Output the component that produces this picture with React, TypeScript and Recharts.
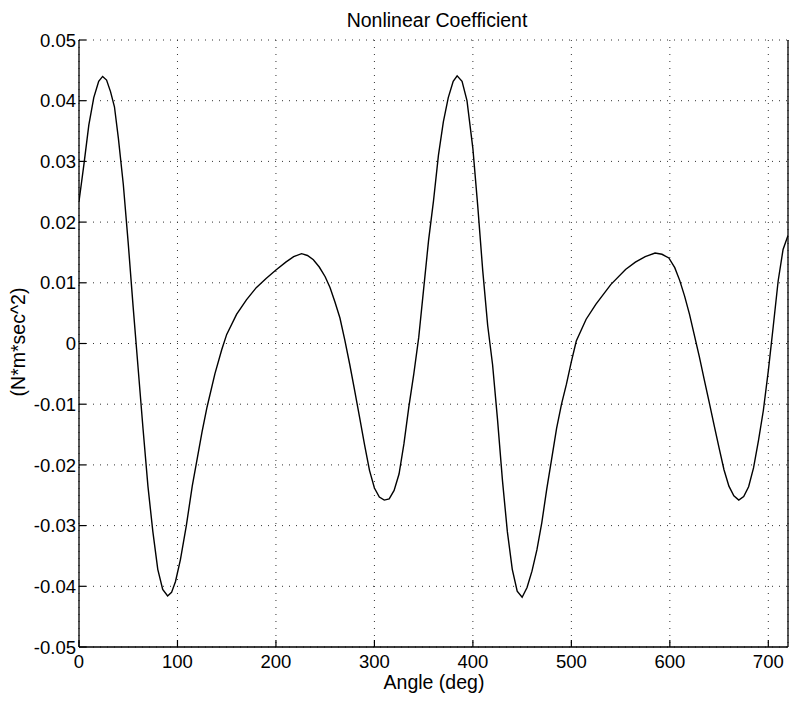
import React from "react";
import { LineChart, Line, XAxis, YAxis, CartesianGrid } from "recharts";

const angles = [
  0, 5, 10, 15, 20, 24, 28, 32, 36, 40, 45, 50, 55, 60, 65, 70, 75, 80, 85, 90, 94, 98, 103, 109, 115, 120, 125, 130, 138, 145, 150, 160, 170, 180, 190, 200, 210, 218, 226, 232, 238, 244, 250, 255, 260, 265, 270, 275, 280, 285, 290, 295, 300, 305, 310, 315, 320, 325, 330, 335, 340, 345, 350, 355, 360,
  365, 370, 375, 380, 384, 389, 394, 400, 405, 410, 415, 420, 425, 430, 435, 440, 445, 450, 455, 460, 465, 470, 475, 480, 485, 490, 495, 500, 505, 515, 525, 540, 555, 565, 575, 585, 592, 599, 605, 610, 615, 620, 625, 630, 635, 640, 645, 650, 655, 660, 665, 670, 675, 680, 685, 690, 695, 700, 705, 710, 715, 720,
];

const coefficient = [
  0.0234, 0.0295, 0.036, 0.0405, 0.0432, 0.044, 0.0434, 0.0415, 0.039, 0.0338, 0.0262, 0.0165, 0.006, -0.004, -0.014, -0.0235, -0.031, -0.0372, -0.0405, -0.0416, -0.041, -0.0392, -0.0356, -0.03, -0.0235, -0.019, -0.0145, -0.0105, -0.005, -0.001, 0.0015, 0.0048, 0.0072, 0.0092, 0.0107, 0.0121, 0.0134, 0.0143, 0.0148, 0.0145, 0.0138, 0.0126, 0.011, 0.0092, 0.0068, 0.0042, 0.0005, -0.0035, -0.0078, -0.0122, -0.0167, -0.0209, -0.0238, -0.0253, -0.0258, -0.0256, -0.0242, -0.0215, -0.0165, -0.0104, -0.005, 0.001, 0.009, 0.017, 0.0235,
  0.031, 0.0365, 0.0405, 0.0432, 0.0441, 0.0432, 0.04, 0.0321, 0.0225, 0.012, 0.003, -0.0035, -0.0125, -0.0225, -0.031, -0.0372, -0.0408, -0.0418, -0.0402, -0.0375, -0.034, -0.0295, -0.024, -0.019, -0.014, -0.01, -0.0067, -0.003, 0.0004, 0.004, 0.0065, 0.0097, 0.0122, 0.0134, 0.0143, 0.0149, 0.0147, 0.0141, 0.0125, 0.0104, 0.0078, 0.0048, 0.0013, -0.0022, -0.006, -0.0097, -0.0135, -0.0172, -0.0208, -0.0235, -0.0251, -0.0258, -0.0252, -0.0236, -0.0205, -0.016, -0.011, -0.0045, 0.0028, 0.0103, 0.0155, 0.0178,
];

const xTicks = [0, 100, 200, 300, 400, 500, 600, 700];
const yTicks = [-0.05, -0.04, -0.03, -0.02, -0.01, 0, 0.01, 0.02, 0.03, 0.04, 0.05];

const title = "Nonlinear Coefficient";
const xLabel = "Angle (deg)";
const yLabel = "(N*m*sec^2)";

const data = angles.map((a, i) => ({ angle: a, value: coefficient[i] }));

const W = 791;
const H = 704;
const FONT = "'Liberation Sans', Arial, Helvetica, sans-serif";
const TICK_FS = 18.5;
const LABEL_FS = 19.5;
const TICK_LEN = 7;

const fmtY = (v: number) => (Math.abs(v) < 1e-9 ? "0" : v.toFixed(2));

const BottomTick = (props: any) => {
  const { x, y, payload } = props;
  return (
    <g>
      <line x1={x} x2={x} y1={y} y2={y - TICK_LEN} stroke="#000" strokeWidth={1.2} />
      <text x={x} y={y + 21} textAnchor="middle" fontSize={TICK_FS} fontFamily={FONT} fill="#000">
        {payload.value}
      </text>
    </g>
  );
};

const TopTick = (props: any) => {
  const { x, y } = props;
  return <line x1={x} x2={x} y1={y} y2={y + TICK_LEN} stroke="#000" strokeWidth={1.2} />;
};

const LeftTick = (props: any) => {
  const { x, y, payload } = props;
  return (
    <g>
      <line x1={x} x2={x + TICK_LEN} y1={y} y2={y} stroke="#000" strokeWidth={1.2} />
      <text x={x - 3} y={y} dy="0.36em" textAnchor="end" fontSize={TICK_FS} fontFamily={FONT} fill="#000">
        {fmtY(payload.value)}
      </text>
    </g>
  );
};

const RightTick = (props: any) => {
  const { x, y } = props;
  return <line x1={x} x2={x - TICK_LEN} y1={y} y2={y} stroke="#000" strokeWidth={1.2} />;
};

export default function App() {
  return (
    <div style={{ position: "absolute", left: 0, top: 0, width: W, height: H, background: "#fff" }}>
      <LineChart width={W} height={H} data={data} margin={{ top: 40, right: 0, bottom: 0, left: 0 }}>
        <CartesianGrid stroke="#333" strokeDasharray="1 6" strokeWidth={1} />
        <XAxis
          dataKey="angle"
          type="number"
          domain={[0, 720]}
          ticks={xTicks}
          interval={0}
          height={57}
          tickSize={0}
          tickMargin={0}
          tick={<BottomTick />}
          axisLine={{ stroke: "#000", strokeWidth: 1.3 }}
          tickLine={false}
          allowDataOverflow
        />
        <XAxis
          xAxisId="top"
          orientation="top"
          dataKey="angle"
          type="number"
          domain={[0, 720]}
          ticks={xTicks}
          interval={0}
          height={0}
          tickSize={0}
          tickMargin={0}
          tick={<TopTick />}
          axisLine={{ stroke: "#000", strokeWidth: 1.3 }}
          tickLine={false}
        />
        <YAxis
          type="number"
          domain={[-0.05, 0.05]}
          ticks={yTicks}
          interval={0}
          width={79}
          tickSize={0}
          tickMargin={0}
          tick={<LeftTick />}
          axisLine={{ stroke: "#000", strokeWidth: 1.3 }}
          tickLine={false}
          allowDataOverflow
        />
        <YAxis
          yAxisId="right"
          orientation="right"
          type="number"
          domain={[-0.05, 0.05]}
          ticks={yTicks}
          interval={0}
          width={3}
          tickSize={0}
          tickMargin={0}
          tick={<RightTick />}
          axisLine={{ stroke: "#000", strokeWidth: 1.3 }}
          tickLine={false}
        />
        <Line
          type="linear"
          dataKey="value"
          stroke="#000"
          strokeWidth={1.4}
          dot={false}
          activeDot={false}
          isAnimationActive={false}
        />
      </LineChart>
      <svg
        width={W}
        height={H}
        style={{ position: "absolute", left: 0, top: 0, pointerEvents: "none" }}
      >
        <text x={437} y={27} textAnchor="middle" fontSize={LABEL_FS} fontFamily={FONT} fill="#000">
          {title}
        </text>
        <text x={434} y={689} textAnchor="middle" fontSize={LABEL_FS} fontFamily={FONT} fill="#000">
          {xLabel}
        </text>
        <text
          x={25}
          y={342}
          textAnchor="middle"
          fontSize={LABEL_FS}
          fontFamily={FONT}
          fill="#000"
          transform="rotate(-90 25 342)"
        >
          {yLabel}
        </text>
      </svg>
    </div>
  );
}
